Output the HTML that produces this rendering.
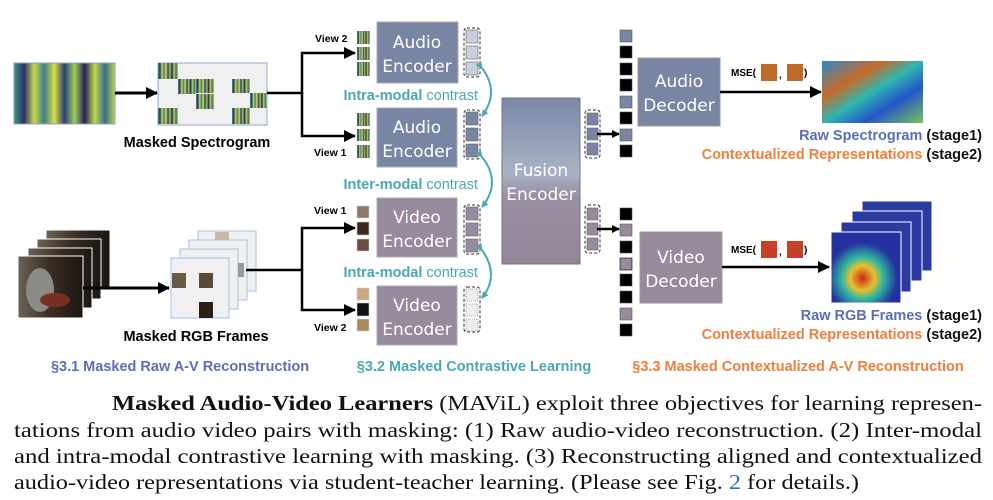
<!DOCTYPE html>
<html><head><meta charset="utf-8"><style>
html,body{margin:0;padding:0;background:#fff;width:993px;height:500px;overflow:hidden}
svg{display:block}
.s{font-family:"Liberation Sans",sans-serif}
.w{fill:#fff;font-family:"DejaVu Sans","Liberation Sans",sans-serif;font-size:17px;text-anchor:middle}
.b{font-weight:bold}
.cap{font-family:"Liberation Serif",serif;font-size:21px;fill:#111}
</style></head><body>
<svg width="993" height="500" viewBox="0 0 993 500" xmlns="http://www.w3.org/2000/svg">
<defs>
<marker id="ah" markerWidth="8" markerHeight="8" refX="7" refY="4" orient="auto" markerUnits="userSpaceOnUse"><path d="M0,0 L8,4 L0,8z" fill="#000"/></marker>
<marker id="ah2" markerWidth="12" markerHeight="12" refX="11" refY="6" orient="auto" markerUnits="userSpaceOnUse"><path d="M0,0 L12,6 L0,12z" fill="#000"/></marker>
<marker id="ta" markerWidth="7" markerHeight="7" refX="6" refY="3.5" orient="auto" markerUnits="userSpaceOnUse"><path d="M0,0 L7,3.5 L0,7z" fill="#4aa8b0"/></marker>
<linearGradient id="spec" x1="0" x2="1">
<stop offset="0" stop-color="#3b9a7a"/><stop offset=".1" stop-color="#2a2f6e"/><stop offset=".2" stop-color="#c8d94a"/><stop offset=".3" stop-color="#3f7f8a"/><stop offset=".4" stop-color="#d9e040"/><stop offset=".5" stop-color="#2b3f7a"/><stop offset=".6" stop-color="#9ccf55"/><stop offset=".7" stop-color="#2a1f5e"/><stop offset=".8" stop-color="#c0d94a"/><stop offset=".9" stop-color="#3a6d8a"/><stop offset="1" stop-color="#b8d348"/></linearGradient>
<linearGradient id="heat" x1="0" x2="1" y1="0" y2="1">
<stop offset="0" stop-color="#2a8acb"/><stop offset=".3" stop-color="#c86a2a"/><stop offset=".5" stop-color="#2fb6b0"/><stop offset=".7" stop-color="#2455c8"/><stop offset="1" stop-color="#7bc25a"/></linearGradient>
<radialGradient id="vh" cx=".45" cy=".65" r=".5"><stop offset="0" stop-color="#c82a1a"/><stop offset=".35" stop-color="#e8c030"/><stop offset=".6" stop-color="#2fb6a0"/><stop offset="1" stop-color="#2430a0"/></radialGradient>
<linearGradient id="fus" x1="0" x2="0" y1="0" y2="1"><stop offset="0" stop-color="#7a88a6"/><stop offset=".45" stop-color="#a8b2c4"/><stop offset=".6" stop-color="#9a8ea2"/><stop offset="1" stop-color="#948699"/></linearGradient>
<linearGradient id="photo" x1="0" x2="1"><stop offset="0" stop-color="#6a6258"/><stop offset=".5" stop-color="#3a2c22"/><stop offset="1" stop-color="#1a1712"/></linearGradient>
</defs>

<rect x="14" y="63" width="101" height="61" fill="url(#spec)" stroke="#8fa0c8"/>
<line x1="115" y1="93" x2="157" y2="93" stroke="#000" stroke-width="3" marker-end="url(#ah2)"/>
<rect x="158" y="63" width="109" height="62" fill="#f0f0f0" stroke="#8fa8d8"/>
<g fill="url(#spec)"><rect x="158" y="63" width="20" height="16"/><rect x="178" y="79" width="18" height="15"/><rect x="196" y="79" width="18" height="14"/><rect x="196" y="94" width="18" height="15"/><rect x="232" y="79" width="18" height="14"/><rect x="250" y="93" width="17" height="15"/><rect x="158" y="108" width="20" height="16"/><rect x="232" y="108" width="18" height="16"/></g>
<text x="197" y="147" class="s b" font-size="14.5" text-anchor="middle">Masked Spectrogram</text>

<path d="M267,93 H302 V53 H355" fill="none" stroke="#000" stroke-width="2.5" marker-end="url(#ah2)"/>
<path d="M302,93 V136 H355" fill="none" stroke="#000" stroke-width="2.5" marker-end="url(#ah2)"/>
<text x="315" y="42" class="s b" font-size="10.5">View 2</text>
<text x="314" y="156" class="s b" font-size="10.5">View 1</text>
<g fill="url(#spec)"><rect x="357" y="31" width="13" height="13"/><rect x="357" y="47" width="13" height="13"/><rect x="357" y="62" width="13" height="14"/>
<rect x="357" y="113" width="13" height="13"/><rect x="357" y="129" width="13" height="12"/><rect x="357" y="145" width="13" height="13"/></g>

<rect x="377" y="22" width="81" height="61" fill="#7886a3" stroke="#aab" />
<text x="417" y="48" class="w">Audio</text><text x="417" y="72" class="w">Encoder</text>
<rect x="377" y="108" width="80" height="59" fill="#7886a3" stroke="#aab"/>
<text x="417" y="133" class="w">Audio</text><text x="417" y="157" class="w">Encoder</text>
<rect x="377" y="198" width="80" height="59" fill="#978a9c" stroke="#aab"/>
<text x="417" y="223" class="w">Video</text><text x="417" y="247" class="w">Encoder</text>
<rect x="377" y="286" width="80" height="59" fill="#978a9c" stroke="#aab"/>
<text x="417" y="311" class="w">Video</text><text x="417" y="335" class="w">Encoder</text>

<g stroke="#333" stroke-dasharray="3,2" fill="none" stroke-width="1">
<rect x="464" y="28" width="16" height="49" rx="3"/><rect x="464" y="110" width="16" height="49" rx="3"/><rect x="464" y="205" width="16" height="49" rx="3"/><rect x="464" y="287" width="16" height="45" rx="3"/>
<rect x="585" y="110" width="15" height="48" rx="3"/><rect x="585" y="205" width="15" height="48" rx="3"/></g>
<g stroke="#666" stroke-width=".6">
<rect x="466" y="30" width="12" height="13" fill="#c8d0e0"/><rect x="466" y="46" width="12" height="13" fill="#c8d0e0"/><rect x="466" y="62" width="12" height="13" fill="#c8d0e0"/>
<rect x="466" y="112" width="12" height="13" fill="#7886a3"/><rect x="466" y="128" width="12" height="13" fill="#7886a3"/><rect x="466" y="144" width="12" height="13" fill="#7886a3"/>
<rect x="466" y="207" width="12" height="13" fill="#978a9c"/><rect x="466" y="223" width="12" height="13" fill="#978a9c"/><rect x="466" y="239" width="12" height="13" fill="#978a9c"/>
<rect x="466" y="289" width="12" height="12" fill="#eee" stroke-dasharray="1,1"/><rect x="466" y="304" width="12" height="12" fill="#eee" stroke-dasharray="1,1"/><rect x="466" y="319" width="12" height="12" fill="#eee" stroke-dasharray="1,1"/>
<rect x="587" y="113" width="11" height="12" fill="#7886a3"/><rect x="587" y="128" width="11" height="12" fill="#7886a3"/><rect x="587" y="143" width="11" height="12" fill="#7886a3"/>
<rect x="587" y="208" width="11" height="12" fill="#978a9c"/><rect x="587" y="223" width="11" height="12" fill="#978a9c"/><rect x="587" y="238" width="11" height="12" fill="#978a9c"/></g>

<g stroke="#4aa8b0" stroke-width="2" fill="none">
<path d="M482,68 Q500,92 482,116" marker-start="url(#ta)" marker-end="url(#ta)"/>
<path d="M482,157 Q502,182 482,207" marker-start="url(#ta)" marker-end="url(#ta)"/>
<path d="M482,250 Q500,275 482,298" marker-start="url(#ta)" marker-end="url(#ta)"/></g>
<g class="s" font-size="14.5" fill="#4aa8b0" text-anchor="end">
<text x="478" y="100"><tspan font-weight="bold">Intra-modal</tspan> contrast</text>
<text x="478" y="189"><tspan font-weight="bold">Inter-modal</tspan> contrast</text>
<text x="478" y="277"><tspan font-weight="bold">Intra-modal</tspan> contrast</text></g>

<g stroke="#fff" stroke-width="1"><rect x="46" y="230" width="64" height="60" fill="url(#photo)"/><rect x="37" y="239" width="64" height="60" fill="url(#photo)"/><rect x="28" y="248" width="64" height="60" fill="url(#photo)"/><rect x="18" y="256" width="65" height="62" fill="url(#photo)"/></g>
<ellipse cx="40" cy="290" rx="14" ry="22" fill="#8a8a86"/><ellipse cx="55" cy="300" rx="15" ry="7" fill="#7a3020"/>
<line x1="83" y1="288" x2="169" y2="288" stroke="#000" stroke-width="3" marker-end="url(#ah2)"/>
<g fill="#f0f0f0" stroke="#a8c0e8"><rect x="198" y="231" width="58" height="60"/><rect x="189" y="240" width="58" height="60"/><rect x="180" y="249" width="58" height="60"/><rect x="171" y="258" width="58" height="60"/></g>
<rect x="215" y="232" width="14" height="8" fill="#c8b8a8"/><rect x="238" y="263" width="6" height="14" fill="#999"/>
<rect x="172" y="273" width="14" height="15" fill="#6a5a48"/><rect x="199" y="273" width="14" height="15" fill="#5a4a38"/><rect x="199" y="302" width="14" height="16" fill="#2a2018"/>
<text x="196" y="341" class="s b" font-size="14.5" text-anchor="middle">Masked RGB Frames</text>
<path d="M246,270 H302 V228 H355" fill="none" stroke="#000" stroke-width="2.5" marker-end="url(#ah2)"/>
<path d="M302,270 V310 H355" fill="none" stroke="#000" stroke-width="2.5" marker-end="url(#ah2)"/>
<text x="314" y="214" class="s b" font-size="10.5">View 1</text>
<text x="314" y="331" class="s b" font-size="10.5">View 2</text>
<g stroke="#ccc" stroke-width=".6"><rect x="357" y="206" width="12" height="12" fill="#8a7a68"/><rect x="357" y="222" width="12" height="13" fill="#3a2a1a"/><rect x="357" y="239" width="12" height="12" fill="#6a5040"/>
<rect x="357" y="288" width="12" height="12" fill="#c8a880"/><rect x="357" y="303" width="12" height="13" fill="#111"/><rect x="357" y="319" width="12" height="12" fill="#a88a60"/></g>

<rect x="502" y="98" width="78" height="166" fill="url(#fus)" stroke="#777"/>
<text x="541" y="176" class="w">Fusion</text><text x="541" y="200" class="w">Encoder</text>
<line x1="597" y1="134" x2="619" y2="134" stroke="#000" stroke-width="2.5" marker-end="url(#ah)"/>
<line x1="597" y1="229" x2="619" y2="229" stroke="#000" stroke-width="2.5" marker-end="url(#ah)"/>
<g stroke="#555" stroke-width=".6">
<rect x="620" y="30" width="12" height="12" fill="#7886a3"/><rect x="620" y="46" width="12" height="12" fill="#000"/><rect x="620" y="63" width="12" height="12" fill="#000"/><rect x="620" y="79" width="12" height="12" fill="#000"/><rect x="620" y="96" width="12" height="12" fill="#7886a3"/><rect x="620" y="112" width="12" height="12" fill="#000"/><rect x="620" y="129" width="12" height="12" fill="#7886a3"/><rect x="620" y="145" width="12" height="12" fill="#000"/>
<rect x="620" y="208" width="12" height="12" fill="#000"/><rect x="620" y="224" width="12" height="12" fill="#978a9c"/><rect x="620" y="241" width="12" height="12" fill="#000"/><rect x="620" y="258" width="12" height="12" fill="#978a9c" stroke="#000"/><rect x="620" y="274" width="12" height="12" fill="#000"/><rect x="620" y="291" width="12" height="12" fill="#000"/><rect x="620" y="308" width="12" height="12" fill="#978a9c"/><rect x="620" y="324" width="12" height="12" fill="#000"/></g>

<rect x="638" y="58" width="82" height="68" fill="#7886a3" stroke="#999"/>
<text x="679" y="87" class="w">Audio</text><text x="679" y="111" class="w">Decoder</text>
<rect x="640" y="232" width="82" height="71" fill="#978a9c" stroke="#999"/>
<text x="681" y="263" class="w">Video</text><text x="681" y="287" class="w">Decoder</text>
<line x1="720" y1="92" x2="821" y2="92" stroke="#000" stroke-width="2.5" marker-end="url(#ah2)"/>
<line x1="722" y1="267" x2="829" y2="267" stroke="#000" stroke-width="2.5" marker-end="url(#ah2)"/>
<text x="731" y="76" class="s b" font-size="10">MSE(</text><rect x="761" y="64" width="16" height="17" fill="#c06a2a"/><text x="779" y="78" class="s b" font-size="10">,</text><rect x="787" y="64" width="16" height="17" fill="#c06a2a"/><text x="804" y="76" class="s b" font-size="10">)</text>
<text x="731" y="253" class="s b" font-size="10">MSE(</text><rect x="761" y="241" width="16" height="17" fill="#c8402a"/><text x="779" y="255" class="s b" font-size="10">,</text><rect x="787" y="241" width="16" height="17" fill="#c8402a"/><text x="804" y="253" class="s b" font-size="10">)</text>
<rect x="822" y="61" width="101" height="62" fill="url(#heat)"/>
<g stroke="#fff" stroke-width="1"><rect x="862" y="201" width="70" height="70" fill="#2a3aa0"/><rect x="852" y="211" width="70" height="70" fill="#2a3aa0"/><rect x="841" y="222" width="70" height="70" fill="#2a3aa0"/><rect x="831" y="232" width="70" height="71" fill="url(#vh)"/></g>
<g class="s" font-size="14.5" text-anchor="end" font-weight="bold">
<text x="982" y="140"><tspan fill="#5a6fb5">Raw Spectrogram</tspan> <tspan fill="#111">(stage1)</tspan></text>
<text x="982" y="159"><tspan fill="#f07f3c">Contextualized Representations</tspan> <tspan fill="#111">(stage2)</tspan></text>
<text x="982" y="320"><tspan fill="#5a6fb5">Raw RGB Frames</tspan> <tspan fill="#111">(stage1)</tspan></text>
<text x="982" y="339"><tspan fill="#f07f3c">Contextualized Representations</tspan> <tspan fill="#111">(stage2)</tspan></text></g>

<g class="s b" font-size="14.5">
<text x="180" y="371" text-anchor="middle" fill="#5a6fb5">§3.1 Masked Raw A-V Reconstruction</text>
<text x="474" y="371" text-anchor="middle" fill="#4aa8b0">§3.2 Masked Contrastive Learning</text>
<text x="798" y="371" text-anchor="middle" fill="#f07f3c">§3.3 Masked Contextualized A-V Reconstruction</text></g>

<text x="112" y="410" class="cap" textLength="870" lengthAdjust="spacingAndGlyphs"><tspan font-weight="bold">Masked Audio-Video Learners</tspan> (MAViL) exploit three objectives for learning represen-</text>
<text x="14" y="437" class="cap" textLength="968" lengthAdjust="spacingAndGlyphs">tations from audio video pairs with masking: (1) Raw audio-video reconstruction. (2) Inter-modal</text>
<text x="14" y="463" class="cap" textLength="968" lengthAdjust="spacingAndGlyphs">and intra-modal contrastive learning with masking. (3) Reconstructing aligned and contextualized</text>
<text x="14" y="489" class="cap" textLength="845" lengthAdjust="spacingAndGlyphs">audio-video representations via student-teacher learning. (Please see Fig. <tspan fill="#2a6fc0">2</tspan> for details.)</text>
</svg>
</body></html>
